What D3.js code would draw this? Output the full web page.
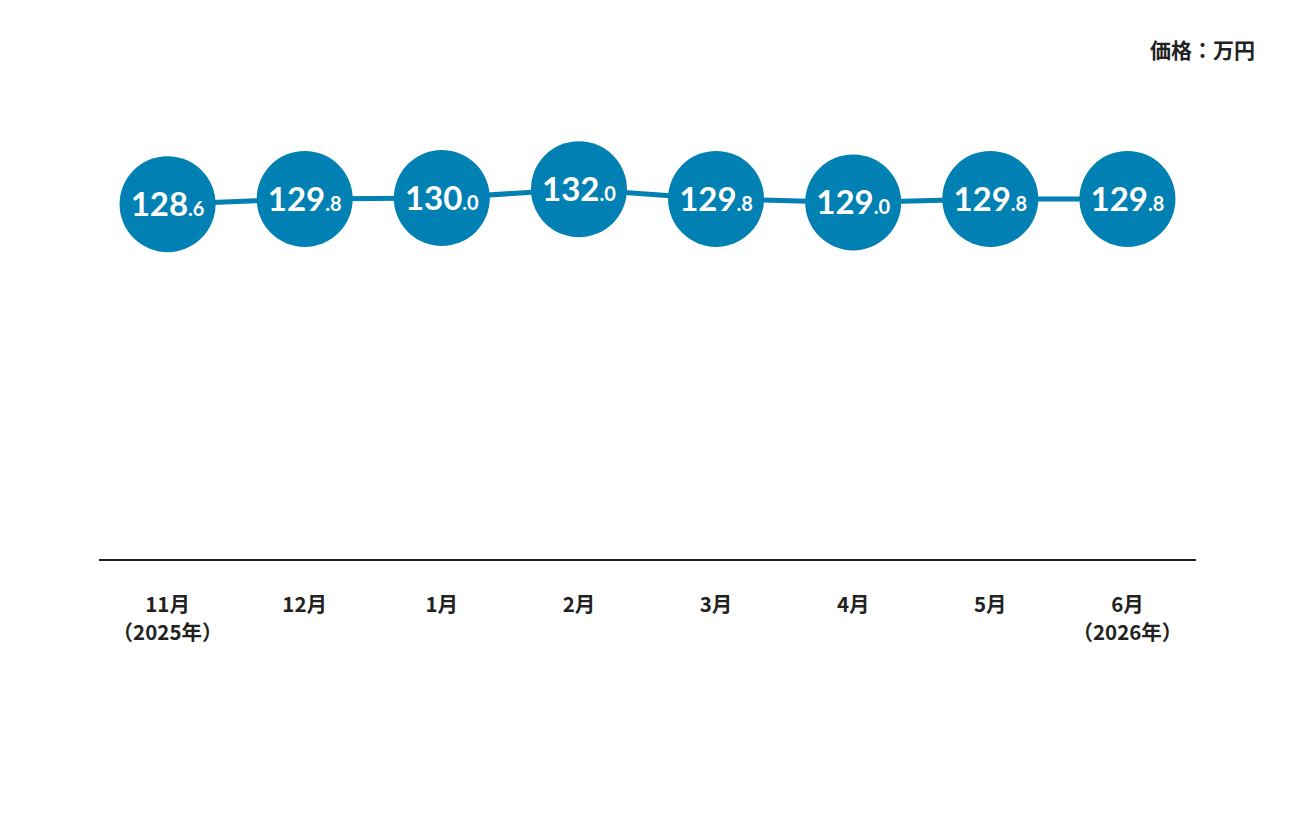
<!DOCTYPE html>
<html lang="ja">
<head>
<meta charset="utf-8">
<title>価格推移</title>
<script src="https://d3js.org/d3.v7.min.js"></script>
<style>
  html, body { margin: 0; padding: 0; background: #fff; }
</style>
</head>
<body>
<script>
// 月ごとの価格（万円）
var months = ["11月", "12月", "1月", "2月", "3月", "4月", "5月", "6月"];
var years = ["（2025年）", "", "", "", "", "", "", "（2026年）"];
var prices = [128.6, 129.8, 130.0, 132.0, 129.8, 129.0, 129.8, 129.8];

var width = 1296;
var height = 816;
var blue = "#0080b3";

var svg = d3.select("body")
  .append("svg")
  .attr("width", width)
  .attr("height", height);

var x = d3.scaleBand()
  .domain(months)
  .range([99, 1196]);

var y = d3.scaleLinear()
  .domain([120, 135])
  .range([242, 176]);

// unit label
svg.append("text")
  .attr("x", 1255)
  .attr("y", 58)
  .attr("text-anchor", "end")
  .attr("font-family", "'Noto Sans CJK JP', sans-serif")
  .attr("font-weight", "bold")
  .attr("font-size", 21)
  .attr("fill", "#222")
  .text("価格：万円");

// baseline
svg.append("line")
  .attr("x1", 99).attr("x2", 1196)
  .attr("y1", 560).attr("y2", 560)
  .attr("stroke", "#222")
  .attr("stroke-width", 2);

var cx = function(d, i) { return x(months[i]) + x.bandwidth() / 2; };

// line
var line = d3.line()
  .x(function(d, i) { return cx(d, i); })
  .y(function(d) { return y(d); });

svg.append("path")
  .datum(prices)
  .attr("fill", "none")
  .attr("stroke", blue)
  .attr("stroke-width", 5)
  .attr("d", line);

// circles
var g = svg.selectAll("g.pt")
  .data(prices)
  .enter()
  .append("g")
  .attr("class", "pt")
  .attr("transform", function(d, i) { return "translate(" + cx(d, i) + "," + y(d) + ")"; });

g.append("circle")
  .attr("r", 48)
  .attr("fill", blue);

var t = g.append("text")
  .attr("y", 12)
  .attr("text-anchor", "middle")
  .attr("font-family", "Lato, 'Noto Sans', sans-serif")
  .attr("font-weight", "bold")
  .attr("fill", "#fff");

t.append("tspan")
  .attr("font-size", 33)
  .text(function(d) { return Math.floor(d); });

t.append("tspan")
  .attr("font-size", 20)
  .text(function(d) { return "." + Math.round((d - Math.floor(d)) * 10); });

// x labels
var lab = svg.selectAll("text.xl")
  .data(months)
  .enter()
  .append("text")
  .attr("class", "xl")
  .attr("text-anchor", "middle")
  .attr("font-family", "'Noto Sans CJK JP', sans-serif")
  .attr("font-weight", "bold")
  .attr("font-size", 20.5)
  .attr("fill", "#222");

lab.append("tspan")
  .attr("x", function(d) { return x(d) + x.bandwidth() / 2; })
  .attr("y", 612)
  .text(function(d) { return d; });

lab.append("tspan")
  .attr("x", function(d) { return x(d) + x.bandwidth() / 2; })
  .attr("y", 640)
  .text(function(d, i) { return years[i]; });
</script>
</body>
</html>
